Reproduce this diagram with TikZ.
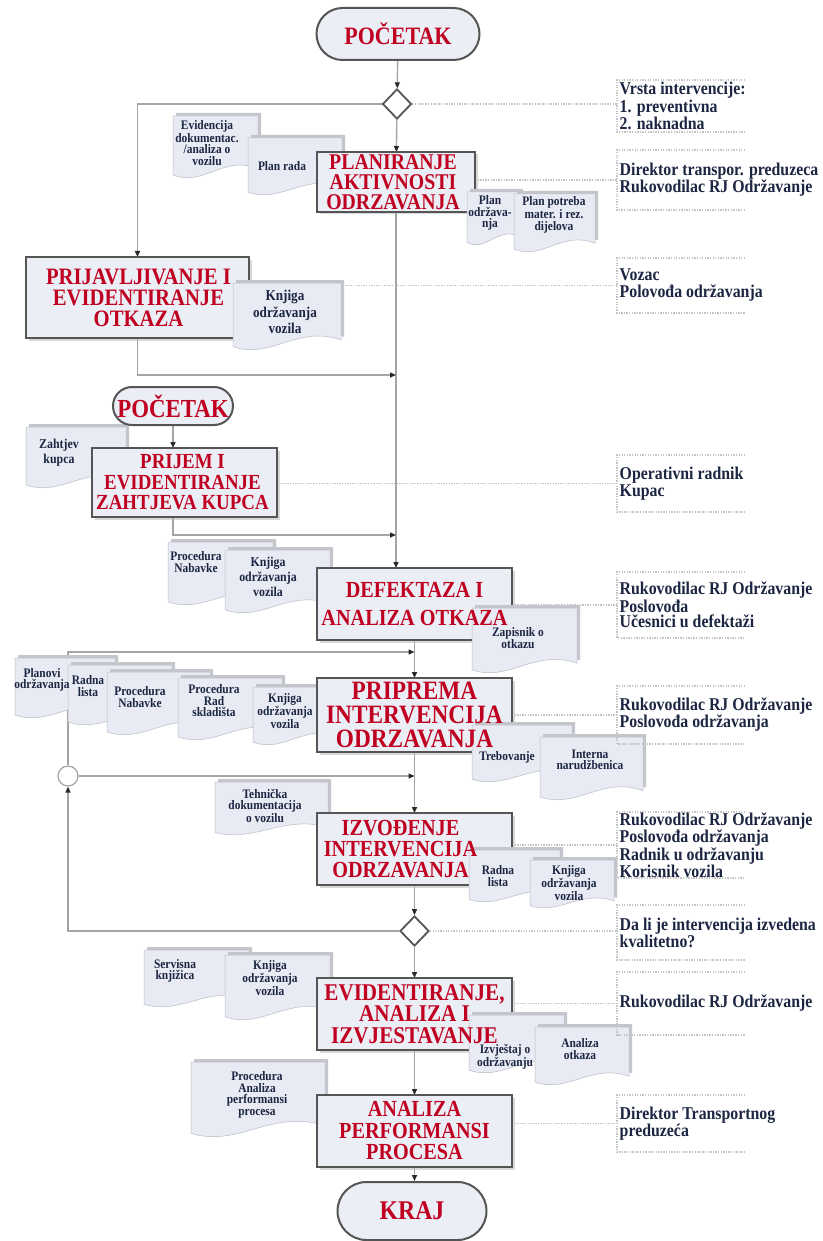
\documentclass[tikz,border=0pt]{standalone}
\usepackage{fontspec}
\newfontfamily\cf[FakeStretch=0.88]{Liberation Serif}
\usetikzlibrary{shapes.geometric,shapes.misc,arrows.meta,shadows,calc}
\pgfdeclarelayer{bg}
\pgfdeclarelayer{fg}
\pgfsetlayers{bg,main,fg}
\definecolor{boxred}{RGB}{192,0,32}
\definecolor{navy}{RGB}{28,38,66}
\definecolor{boxfill}{RGB}{236,238,245}
\definecolor{boxline}{RGB}{85,85,85}
\definecolor{docfill}{RGB}{232,235,243}
\definecolor{docshade}{RGB}{196,198,204}
\definecolor{docline}{RGB}{185,188,198}
\definecolor{conn}{RGB}{165,165,165}
\definecolor{dotc}{RGB}{196,196,196}
\definecolor{tipc}{RGB}{40,40,40}
\tikzset{
 procbox/.style={draw=boxline, line width=2.2pt, fill=boxfill, inner sep=0pt, outer sep=0pt,
   drop shadow={shadow xshift=2.5pt,shadow yshift=-2.5pt,fill=black!30}},
 proctext/.style={align=center, text=boxred, inner sep=0pt},
 termbox/.style={rounded rectangle, draw=boxline, line width=2pt, fill=boxfill, inner sep=0pt, align=center, text=boxred},
 decision/.style={diamond, draw=boxline, line width=1.8pt, fill=white, inner sep=0pt, minimum width=29pt, minimum height=30pt, aspect=1},
 junction/.style={circle, draw=conn, line width=1.2pt, fill=white, minimum size=20pt, inner sep=0pt},
 flow/.style={draw=conn, line width=1.4pt, -{Triangle[length=6pt,width=5pt,color=tipc]}},
 dotline/.style={draw=dotc, line width=1.3pt, dash pattern=on 1.3pt off 1.3pt},
 doctext/.style={text=navy, align=center, font=\cf\bfseries\fontsize{13}{11.5}\selectfont, inner sep=0pt},
 docmid/.style={text=navy, align=center, font=\cf\bfseries\fontsize{13.5}{15}\selectfont, inner sep=0pt},
 docbig/.style={text=navy, align=center, font=\cf\bfseries\fontsize{15}{16.5}\selectfont, inner sep=0pt},
 annottext/.style={text=navy, align=left, anchor=west, inner xsep=2.5pt, inner ysep=0pt, font=\cf\bfseries\fontsize{18}{17}\selectfont},
}
\newcommand\pbox[9]{%
 \node[procbox, minimum width={#4-#2}, minimum height={#5-#3}] (#1) at ({(#2+#4)/2},{(#3+#5)/2}) {};
 \begin{pgfonlayer}{fg}
 \node[proctext, font=\cf\bfseries\fontsize{#6}{#7}\selectfont, xshift=#9] (#1t) at (#1.center) {#8};
 \end{pgfonlayer}}
\newcommand\docu[9]{%
 \fill[docshade] ({#2+3},{#3-3}) -- ({#4+3},{#3-3}) -- ({#4+3},{#5-3-0.15*(#5-#3)}) .. controls ({#2+3+0.6*(#4-#2)},{#5-3-0.38*(#5-#3)}) and ({#2+3+0.35*(#4-#2)},{#5-3+0.15*(#5-#3)}) .. ({#2+3},{#5-3-0.05*(#5-#3)}) -- cycle;
 \filldraw[fill=docfill, draw=docline, line width=0.5pt] (#2,#3) -- (#4,#3) -- (#4,{#5-0.15*(#5-#3)}) .. controls ({#2+0.6*(#4-#2)},{#5-0.38*(#5-#3)}) and ({#2+0.35*(#4-#2)},{#5+0.15*(#5-#3)}) .. (#2,{#5-0.05*(#5-#3)}) -- cycle;
 \begin{pgfonlayer}{fg}
 \node[#8] (#1) at (#6,#7) {#9};
 \end{pgfonlayer}}
\newcommand\annot[5]{%
 \draw[dotline] (745,#2) -- (617,#2) -- (617,#3) -- (745,#3);
 \node[annottext,#5] (#1) at (617,{(#2+#3)/2}) {#4};}
\begin{document}
\begin{tikzpicture}[x=1pt,y=-1pt]
\useasboundingbox (0,0) rectangle (822,1241);
\begin{pgfonlayer}{bg}
\fill[white] (0,0) rectangle (822,1241);
\end{pgfonlayer}

% ---- left documents (under the boxes)
\docu{dEvid}{173}{116}{258}{178}{207}{143}{doctext}{Evidencija\\dokumentac.\\/analiza o\\vozilu}
\docu{dPlanRada}{248}{138}{342}{195}{282}{166}{doctext}{Plan rada}
\docu{dZaht}{26}{427}{126}{488}{59}{453}{docmid}{Zahtjev\\kupca}
\docu{dProcA}{168}{542}{273}{605}{196}{562}{doctext}{Procedura\\Nabavke}
\docu{dKnj2}{225}{550}{330}{613}{268}{577}{docmid}{Knjiga\\održavanja\\vozila}
\docu{dPlanovi}{15}{658}{115}{718}{42}{680}{doctext}{Planovi\\održavanja}
\docu{dRadna1}{68}{665}{172}{725}{88}{686}{doctext}{Radna\\lista}
\docu{dProcB}{107}{672}{210}{735}{140}{697}{doctext}{Procedura\\Nabavke}
\docu{dProcRad}{178}{678}{282}{740}{214}{701}{doctext}{Procedura\\Rad\\skladišta}
\docu{dKnj3}{253}{687}{340}{745}{285}{711}{doctext}{Knjiga\\održavanja\\vozila}
\docu{dTeh}{215}{782}{328}{835}{265}{806}{doctext}{Tehnička\\dokumentacija\\o vozilu}
\docu{dServ}{144}{950}{249}{1007}{175}{971}{doctext}{Servisna\\knjižica}
\docu{dKnj5}{225}{955}{330}{1020}{270}{978}{doctext}{Knjiga\\održavanja\\vozila}
\docu{dProcAn}{191}{1062}{325}{1137}{257}{1095}{doctext}{Procedura\\Analiza\\performansi\\procesa}

% ---- terminals, decisions, junction
\node[termbox, minimum width=163pt, minimum height=52pt, font=\cf\bfseries\fontsize{25}{25}\selectfont] (t1) at (398,34) {POČETAK};
\node[termbox, minimum width=120pt, minimum height=38pt, font=\cf\bfseries\fontsize{26}{26}\selectfont] (t2) at (173,406) {POČETAK};
\node[termbox, minimum width=149pt, minimum height=58pt, font=\cf\bfseries\fontsize{27}{27}\selectfont] (kraj) at (412,1211) {KRAJ};
\node[decision] (d1) at (397,104) {};
\node[decision] (d2) at (414.5,931) {};
\node[junction] (jc) at (68,776) {};

% ---- process boxes
\pbox{plan}{317}{152}{475}{212}{22.5}{20}{PLANIRANJE\\AKTIVNOSTI\\ODRZAVANJA}{-3pt}
\pbox{prij}{26}{257}{249}{338}{23.5}{21}{PRIJAVLJIVANJE I\\EVIDENTIRANJE\\OTKAZA}{1pt}
\pbox{prijem}{92}{448}{277}{517}{21.5}{20.5}{PRIJEM I\\EVIDENTIRANJE\\ZAHTJEVA KUPCA}{-2pt}
\pbox{def}{317}{568}{512}{640}{23}{28}{DEFEKTAZA I\\ANALIZA OTKAZA}{0pt}
\pbox{prip}{317}{678}{512}{752}{26.5}{24}{PRIPREMA\\INTERVENCIJA\\ODRZAVANJA}{0pt}
\pbox{izv}{317}{813}{512}{885}{23}{21}{IZVOĐENJE\\INTERVENCIJA\\ODRZAVANJA}{-14pt}
\pbox{evid}{317}{978}{512}{1050}{24}{21.5}{EVIDENTIRANJE,\\ANALIZA I\\IZVJESTAVANJE}{0pt}
\pbox{anal}{317}{1095}{512}{1167}{23}{21.5}{ANALIZA\\PERFORMANSI\\PROCESA}{0pt}

% ---- right documents (over the boxes)
\docu{dPlanOdr}{467}{192}{520}{245}{490}{213}{doctext}{Plan\\održava-\\nja}
\docu{dPlanPot}{514}{194}{595}{252}{554}{215}{doctext}{Plan potreba\\mater. i rez.\\dijelova}
\docu{dKnj1}{233}{283}{341}{350}{285}{312}{docbig}{Knjiga\\održavanja\\vozila}
\docu{dZap}{472}{608}{577}{673}{518}{638}{doctext}{Zapisnik o\\otkazu}
\docu{dTreb}{472}{725}{572}{782}{507}{757}{doctext}{Trebovanje}
\docu{dInt}{540}{737}{643}{800}{590}{760}{doctext}{Interna\\narudžbenica}
\docu{dRadna2}{469}{850}{560}{902}{498}{876}{doctext}{Radna\\lista}
\docu{dKnj4}{530}{860}{614}{908}{569}{883}{doctext}{Knjiga\\održavanja\\vozila}
\docu{dIzv}{469}{1015}{564}{1073}{505}{1057}{doctext}{Izvještaj o\\održavanju}
\docu{dAnOt}{535}{1027}{629}{1085}{580}{1049}{doctext}{Analiza\\otkaza}

% ---- annotations
\annot{a1}{80}{132}{Vrsta intervencije:\\1. preventivna\\2. naknadna}{font=\cf\bfseries\fontsize{18}{14.5}\selectfont}
\annot{a2}{150}{210}{Direktor transpor. preduzeca\\Rukovodilac RJ Održavanje}{}
\annot{a3}{258}{313}{Vozac\\Polovođa održavanja}{}
\annot{a4}{455}{512}{Operativni radnik\\Kupac}{}
\annot{a5}{572}{638}{Rukovodilac RJ Održavanje\\Poslovođa\\Učesnici u defektaži}{font=\cf\bfseries\fontsize{18}{15.5}\selectfont}
\annot{a6}{686}{744}{Rukovodilac RJ Održavanje\\Poslovođa održavanja}{}
\annot{a7}{812}{878}{Rukovodilac RJ Održavanje\\Poslovođa održavanja\\Radnik u održavanju\\Korisnik vozila}{font=\cf\bfseries\fontsize{18}{14}\selectfont}
\annot{a8}{905}{960}{Da li je intervencija izvedena\\kvalitetno?}{}
\annot{a9}{972}{1035}{Rukovodilac RJ Održavanje}{}
\annot{a10}{1095}{1152}{Direktor Transportnog\\preduzeća}{}

% ---- connectors
\begin{pgfonlayer}{bg}
\coordinate (m1) at (plan.south |- 0,375);
\coordinate (m2) at (plan.south |- 0,535);
\coordinate (m3) at (def.south |- 0,652);
\draw[flow] (t1) -- (d1);
\draw[flow] (d1.west) -| (prij.north);
\draw[flow] (d1) -- (plan);
\draw[flow] (plan.south) -- (plan.south |- def.north);
\draw[flow] (prij.south) |- (m1);
\draw[flow] (t2.south) -- (t2.south |- prijem.north);
\draw[flow] (t2.south |- prijem.south) |- (m2);
\draw[flow] (def) -- (prip);
\draw[flow] (prip) -- (izv);
\draw[flow] (izv) -- (d2);
\draw[flow] (d2) -- (evid);
\draw[flow] (evid) -- (anal);
\draw[flow] (anal.south) -- (anal.south |- kraj.north);
\draw[flow] (d2.west) -| (jc.south);
\draw[flow] (jc.north) |- (m3);
\draw[flow] (jc.east) -- (jc.east -| def.south);
\draw[dotline] (d1.east) -- (d1.east -| a1.west);
\draw[dotline] (plan.east |- a2.west) -- (a2.west);
\draw[dotline] (prij.east |- a3.west) -- (a3.west);
\draw[dotline] (prijem.east |- a4.west) -- (a4.west);
\draw[dotline] (def.east |- a5.west) -- (a5.west);
\draw[dotline] (prip.east |- a6.west) -- (a6.west);
\draw[dotline] (izv.east |- a7.west) -- (a7.west);
\draw[dotline] (d2.east) -- (d2.east -| a8.west);
\draw[dotline] (evid.east |- a9.west) -- (a9.west);
\draw[dotline] (anal.east |- a10.west) -- (a10.west);
\end{pgfonlayer}
\end{tikzpicture}
\end{document}
